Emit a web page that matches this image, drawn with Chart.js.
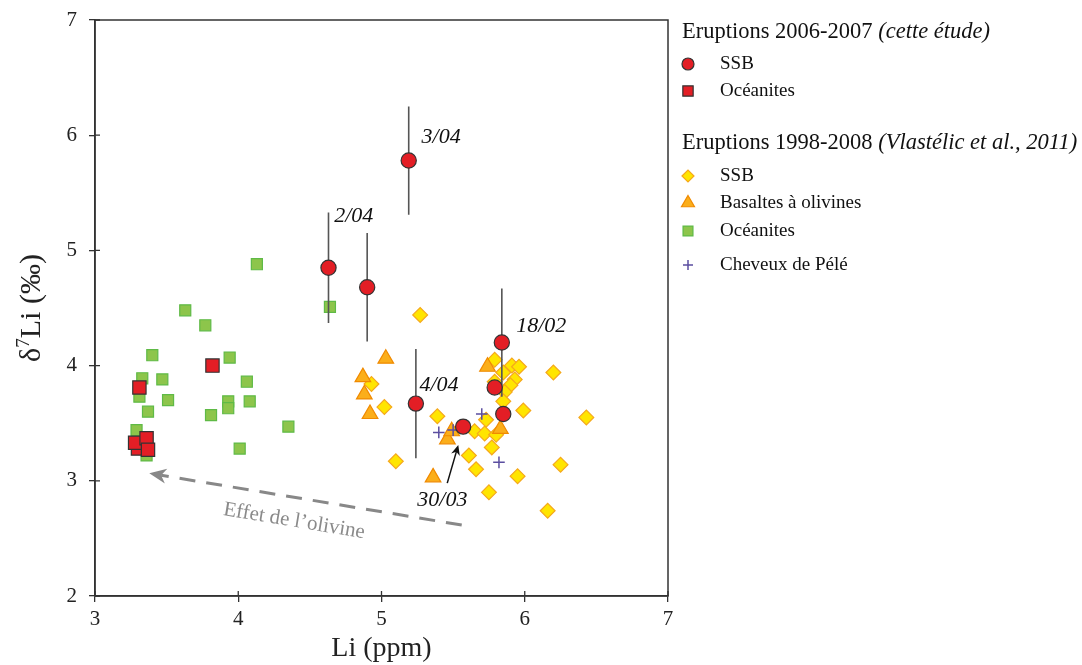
<!DOCTYPE html>
<html>
<head>
<meta charset="utf-8">
<script src="https://cdn.jsdelivr.net/npm/chart.js@4.4.0/dist/chart.umd.min.js"></script>
<style>
  html, body { margin: 0; padding: 0; background: #fff; }
  #wrap { width: 1082px; height: 665px; }
</style>
</head>
<body>
<div id="wrap"><canvas id="liChart" width="1082" height="665"></canvas></div>
<script>
const SERIF = "'Liberation Serif', 'Times New Roman', serif";

// Eruptions 2006-2007 (cette étude) - SSB, with 2SD error
const ssbNewLi = [4.63, 4.90, 5.19, 5.24, 5.84, 5.79, 5.85, 5.57];
const ssbNewD7 = [4.85, 4.68, 5.78, 3.67, 4.20, 3.81, 3.58, 3.47];
const ssbNewErr = [0.48, 0.47, 0.47, 0.475, 0.47, 0, 0, 0];

// Eruptions 2006-2007 - Océanites
const oceNewLi = [3.31, 3.82, 3.30, 3.28, 3.36, 3.37];
const oceNewD7 = [3.81, 4.00, 3.28, 3.33, 3.37, 3.27];

// Eruptions 1998-2008 (Vlastélic et al., 2011)
const ssbOldLi = [5.27, 4.93, 5.02, 5.39, 5.10, 5.79, 5.91, 5.96, 6.20, 5.85, 5.93, 5.90, 5.86, 5.85,
  5.99, 6.43, 5.73, 5.65, 5.72, 5.80, 5.77, 5.61, 6.25, 5.66, 5.95, 5.75, 6.16, 5.79];
const ssbOldD7 = [4.44, 3.84, 3.64, 3.56, 3.17, 4.05, 4.00, 3.99, 3.94, 3.94, 3.88, 3.83, 3.77, 3.69,
  3.61, 3.55, 3.53, 3.43, 3.41, 3.40, 3.29, 3.22, 3.14, 3.10, 3.04, 2.90, 2.74, 3.86];

const basOldLi = [5.03, 4.87, 4.88, 4.92, 5.74, 5.46, 5.49, 5.83, 5.36];
const basOldD7 = [4.06, 3.90, 3.75, 3.58, 3.99, 3.36, 3.43, 3.45, 3.03];

const oceOldLi = [4.13, 3.63, 3.77, 3.40, 3.94, 3.33, 3.47, 4.06, 3.31, 3.51, 3.93, 4.08, 3.93, 3.37,
  3.81, 4.35, 3.29, 4.01, 3.36, 4.64];
const oceOldD7 = [4.88, 4.48, 4.35, 4.09, 4.07, 3.89, 3.88, 3.86, 3.73, 3.70, 3.69, 3.69, 3.63, 3.60,
  3.57, 3.47, 3.44, 3.28, 3.22, 4.51];

const peleLi = [5.40, 5.50, 5.70, 5.82];
const peleD7 = [3.42, 3.44, 3.58, 3.16];

const xTicks = [3, 4, 5, 6, 7];
const yTicks = [2, 3, 4, 5, 6, 7];

const toPts = (xs, ys) => xs.map((x, i) => ({ x: x, y: ys[i] }));

// vertical error bars as broken line segments
const errPts = [];
ssbNewLi.forEach((x, i) => {
  if (ssbNewErr[i] > 0) {
    errPts.push({ x: x, y: ssbNewD7[i] - ssbNewErr[i] });
    errPts.push({ x: x, y: ssbNewD7[i] + ssbNewErr[i] });
    errPts.push({ x: x, y: null });
  }
});

// sample labels (italic dates) placed in data units
const notes = [
  { text: "3/04", x: 5.28, y: 5.98 },
  { text: "2/04", x: 4.67, y: 5.30 },
  { text: "18/02", x: 5.94, y: 4.34 },
  { text: "4/04", x: 5.265, y: 3.83 },
  { text: "30/03", x: 5.25, y: 2.83 }
];

const styles = {
  ssbNew: { pointStyle: "circle", radius: 7.6, bg: "#e31e25", border: "#333", bw: 1.2 },
  oceNew: { pointStyle: "rect", radius: 9.4, bg: "#e31e25", border: "#333", bw: 1.2 },
  ssbOld: { pointStyle: "rectRot", radius: 7.4, bg: "#ffe500", border: "#f5a81c", bw: 1.2 },
  basOld: { pointStyle: "triangle", radius: 9, bg: "#fbae1a", border: "#f08a00", bw: 1.2 },
  oceOld: { pointStyle: "rect", radius: 7.8, bg: "#8dc54b", border: "#5fba46", bw: 1.2 },
  pele: { pointStyle: "cross", radius: 5.8, bg: "#5b4ea0", border: "#5b4ea0", bw: 1.5 }
};

const mkSet = (label, pts, s) => ({
  label: label,
  data: pts,
  pointStyle: s.pointStyle,
  pointRadius: s.radius,
  pointHoverRadius: s.radius,
  backgroundColor: s.bg,
  borderColor: s.border,
  borderWidth: s.bw,
  showLine: false
});

const axisPlugin = {
  id: "frameAndNotes",
  beforeDatasetsDraw(chart) {
    const ctx = chart.ctx;
    const xs = chart.scales.x, ys = chart.scales.y;
    // dashed "olivine" arrow
    const x0 = xs.getPixelForValue(5.56), y0 = ys.getPixelForValue(2.616);
    const x1 = xs.getPixelForValue(3.379), y1 = ys.getPixelForValue(3.065);
    const ang = Math.atan2(y1 - y0, x1 - x0);
    ctx.save();
    ctx.strokeStyle = "#888";
    ctx.fillStyle = "#888";
    ctx.lineWidth = 3;
    ctx.setLineDash([16, 11]);
    ctx.beginPath();
    ctx.moveTo(x0, y0);
    ctx.lineTo(x1 - 12 * Math.cos(ang), y1 - 12 * Math.sin(ang));
    ctx.stroke();
    ctx.setLineDash([]);
    ctx.translate(x1, y1);
    ctx.rotate(ang);
    ctx.beginPath();
    ctx.moveTo(0, 0);
    ctx.lineTo(-17, -7.5);
    ctx.lineTo(-12, 0);
    ctx.lineTo(-17, 7.5);
    ctx.closePath();
    ctx.fill();
    ctx.restore();

    ctx.save();
    ctx.translate(xs.getPixelForValue(4.39), ys.getPixelForValue(2.65));
    ctx.rotate(ang + Math.PI);
    ctx.fillStyle = "#8a8a8a";
    ctx.font = "21px " + SERIF;
    ctx.textAlign = "center";
    ctx.textBaseline = "middle";
    ctx.fillText("Effet de l\u2019olivine", 0, 0);
    ctx.restore();
  },
  afterDatasetsDraw(chart) {
    const ctx = chart.ctx;
    const xs = chart.scales.x, ys = chart.scales.y;
    ctx.save();
    ctx.fillStyle = "#111";
    ctx.font = "italic 22px " + SERIF;
    ctx.textAlign = "left";
    ctx.textBaseline = "middle";
    notes.forEach(n => ctx.fillText(n.text, xs.getPixelForValue(n.x), ys.getPixelForValue(n.y)));
    // small black arrow for 30/03
    const ax0 = xs.getPixelForValue(5.459), ay0 = ys.getPixelForValue(2.98);
    const ax1 = xs.getPixelForValue(5.536), ay1 = ys.getPixelForValue(3.31);
    const a = Math.atan2(ay1 - ay0, ax1 - ax0);
    ctx.strokeStyle = "#111";
    ctx.lineWidth = 1.5;
    ctx.beginPath();
    ctx.moveTo(ax0, ay0);
    ctx.lineTo(ax1 - 6 * Math.cos(a), ay1 - 6 * Math.sin(a));
    ctx.stroke();
    ctx.translate(ax1, ay1);
    ctx.rotate(a);
    ctx.beginPath();
    ctx.moveTo(0, 0);
    ctx.lineTo(-10, -4.5);
    ctx.lineTo(-7, 0);
    ctx.lineTo(-10, 4.5);
    ctx.closePath();
    ctx.fill();
    ctx.restore();
  },
  afterDraw(chart) {
    const ctx = chart.ctx;
    const ca = chart.chartArea;
    const xs = chart.scales.x, ys = chart.scales.y;
    ctx.save();
    // frame
    ctx.strokeStyle = "#333";
    ctx.lineWidth = 1.5;
    ctx.strokeRect(ca.left, ca.top, ca.right - ca.left, ca.bottom - ca.top);
    // inner tick stubs
    ctx.lineWidth = 1.3;
    ctx.beginPath();
    xTicks.forEach(v => {
      const p = xs.getPixelForValue(v);
      ctx.moveTo(p, ca.bottom);
      ctx.lineTo(p, ca.bottom - 5);
    });
    yTicks.forEach(v => {
      const p = ys.getPixelForValue(v);
      ctx.moveTo(ca.left, p);
      ctx.lineTo(ca.left + 5, p);
    });
    ctx.stroke();

    // y axis title with superscript
    ctx.translate(30, (ca.top + ca.bottom) / 2);
    ctx.rotate(-Math.PI / 2);
    ctx.fillStyle = "#222";
    ctx.textBaseline = "alphabetic";
    const big = "30px " + SERIF, small = "19px " + SERIF;
    ctx.font = big;
    const w1 = ctx.measureText("\u03b4").width;
    const w3 = ctx.measureText("Li (\u2030)").width;
    ctx.font = small;
    const w2 = ctx.measureText("7").width;
    let cx = -(w1 + w2 + w3) / 2;
    const base = 10;
    ctx.font = big;
    ctx.fillText("\u03b4", cx, base);
    cx += w1;
    ctx.font = small;
    ctx.fillText("7", cx, base - 11);
    cx += w2;
    ctx.font = big;
    ctx.fillText("Li (\u2030)", cx, base);
    ctx.restore();

    // side legend
    ctx.save();
    ctx.fillStyle = "#111";
    ctx.textBaseline = "middle";
    ctx.textAlign = "left";
    const heading = (plain, ital, x, y) => {
      ctx.font = "22.5px " + SERIF;
      ctx.fillText(plain, x, y);
      const w = ctx.measureText(plain).width;
      ctx.font = "italic 22.5px " + SERIF;
      ctx.fillText(ital, x + w, y);
    };
    const item = (s, r, text, y) => {
      ctx.save();
      ctx.fillStyle = s.bg;
      ctx.strokeStyle = s.border;
      ctx.lineWidth = s.bw;
      Chart.helpers.drawPoint(ctx, { pointStyle: s.pointStyle, radius: r, rotation: 0, borderWidth: s.bw }, 688, y);
      ctx.restore();
      ctx.font = "19px " + SERIF;
      ctx.fillText(text, 720, y);
    };
    heading("Eruptions 2006-2007 ", "(cette \u00e9tude)", 682, 32);
    item(styles.ssbNew, 6, "SSB", 64);
    item(styles.oceNew, 7.3, "Oc\u00e9anites", 91);
    heading("Eruptions 1998-2008 ", "(Vlast\u00e9lic et al., 2011)", 682, 143);
    item(styles.ssbOld, 6, "SSB", 176);
    item(styles.basOld, 7.5, "Basaltes \u00e0 olivines", 203);
    item(styles.oceOld, 7, "Oc\u00e9anites", 231);
    item(styles.pele, 5, "Cheveux de P\u00e9l\u00e9", 265);
    ctx.restore();
  }
};

new Chart("liChart", {
  type: "scatter",
  data: {
    datasets: [
      mkSet("SSB 2006-2007", toPts(ssbNewLi, ssbNewD7), styles.ssbNew),
      mkSet("Océanites 2006-2007", toPts(oceNewLi, oceNewD7), styles.oceNew),
      {
        label: "2SD",
        data: errPts,
        showLine: true,
        spanGaps: false,
        pointRadius: 0,
        pointHoverRadius: 0,
        borderColor: "#555",
        borderWidth: 1.6
      },
      mkSet("Cheveux de Pélé", toPts(peleLi, peleD7), styles.pele),
      mkSet("Basaltes à olivines", toPts(basOldLi, basOldD7), styles.basOld),
      mkSet("SSB 1998-2008", toPts(ssbOldLi, ssbOldD7), styles.ssbOld),
      mkSet("Océanites 1998-2008", toPts(oceOldLi, oceOldD7), styles.oceOld)
    ]
  },
  options: {
    responsive: false,
    animation: false,
    layout: { padding: { left: 0, right: 414, top: 20, bottom: 0 } },
    plugins: {
      legend: { display: false },
      tooltip: { enabled: false }
    },
    scales: {
      x: {
        type: "linear",
        min: 3,
        max: 7,
        afterBuildTicks: (s) => { s.ticks = xTicks.map(v => ({ value: v })); },
        afterFit: (s) => { s.height = 69; s.paddingLeft = 0; s.paddingRight = 0; },
        ticks: { color: "#222", font: { family: SERIF, size: 21 }, padding: 5, maxRotation: 0 },
        grid: { drawOnChartArea: false, drawTicks: true, tickLength: 6, color: "#333", lineWidth: 1.3 },
        border: { display: true, color: "#333", width: 1.5 },
        title: { display: true, text: "Li (ppm)", color: "#222", font: { family: SERIF, size: 28 }, padding: { top: 0, bottom: 0 } }
      },
      y: {
        type: "linear",
        min: 2,
        max: 7,
        afterBuildTicks: (s) => { s.ticks = yTicks.map(v => ({ value: v })); },
        afterFit: (s) => { s.width = 95; s.paddingTop = 0; s.paddingBottom = 0; },
        ticks: { color: "#222", font: { family: SERIF, size: 21 }, padding: 12 },
        grid: { drawOnChartArea: false, drawTicks: true, tickLength: 6, color: "#333", lineWidth: 1.3 },
        border: { display: true, color: "#333", width: 1.5 },
        title: { display: false }
      }
    }
  },
  plugins: [axisPlugin]
});
</script>
</body>
</html>
